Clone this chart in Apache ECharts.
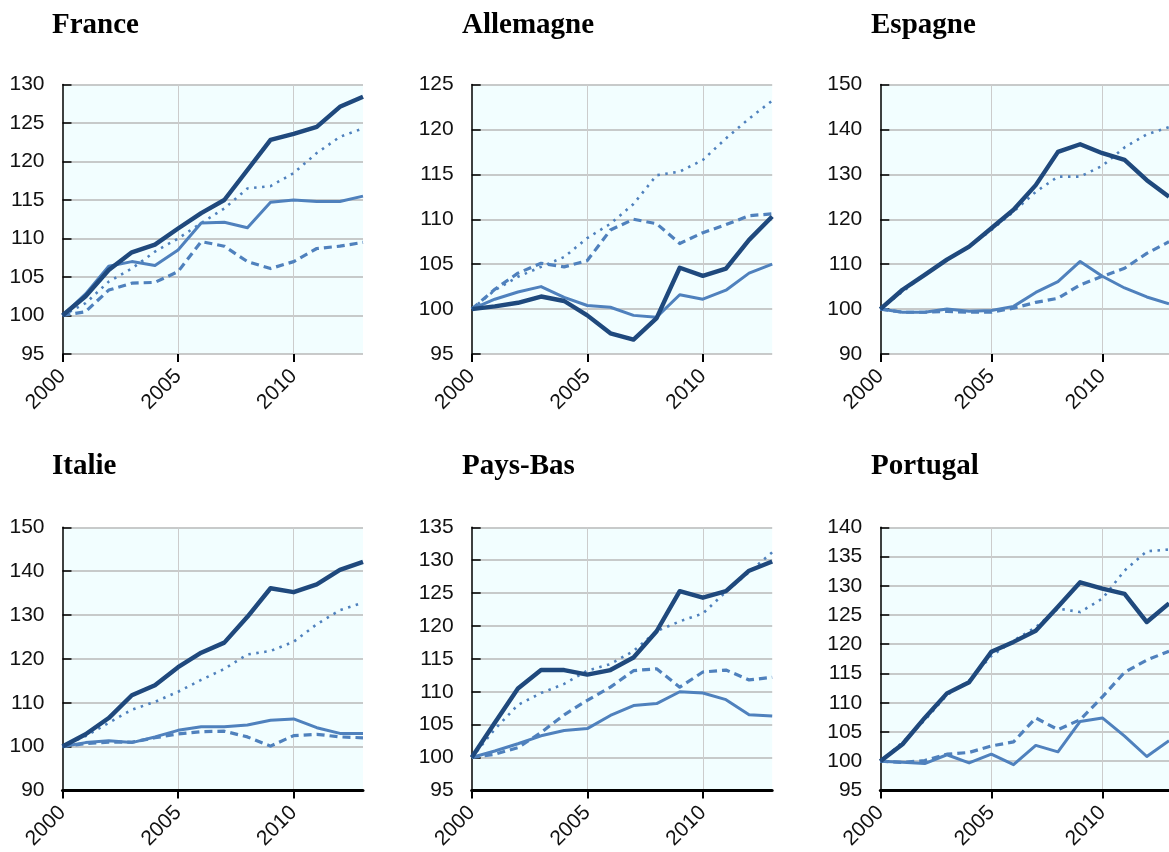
<!DOCTYPE html>
<html>
<head>
<meta charset="utf-8">
<script src="https://cdn.jsdelivr.net/npm/echarts@6/dist/echarts.min.js"></script>
<style>
html,body{margin:0;padding:0;background:#fff;}
#chart{width:1169px;height:852px;}
</style>
</head>
<body>
<div id="chart"></div>
<script>
// Categories (x axis tick labels)
const years = ['2000','2001','2002','2003','2004','2005','2006','2007','2008','2009','2010','2011','2012','2013'];

// France
const franceDark   = [100,102.5,105.9,108.2,109.2,111.3,113.3,115.0,118.9,122.8,123.6,124.5,127.1,128.4];
const franceSolid  = [100,102.8,106.4,107.0,106.5,108.5,112.0,112.1,111.4,114.7,115.0,114.8,114.8,115.5];
const franceDashed = [100,100.5,103.3,104.2,104.3,105.7,109.6,109.0,107.0,106.1,107.0,108.7,109.0,109.5];
const franceDotted = [100,101.6,104.4,106.1,108.3,110.0,112.0,113.9,116.5,116.8,118.5,121.1,123.2,124.3];

// Allemagne
const allemagneDark   = [100,100.3,100.7,101.4,100.9,99.3,97.3,96.6,99.0,104.6,103.7,104.5,107.7,110.3];
const allemagneSolid  = [100,101.1,101.9,102.5,101.3,100.4,100.2,99.3,99.1,101.6,101.1,102.1,104.0,105.0];
const allemagneDashed = [100,102.2,104.0,105.1,104.7,105.4,108.8,110.0,109.5,107.3,108.5,109.4,110.4,110.6];
const allemagneDotted = [100,102.1,103.6,104.7,105.8,107.9,109.5,111.7,114.9,115.3,116.6,119.0,121.2,123.2];

// Espagne
const espagneDark   = [100,104.3,107.6,111.0,113.9,118.0,122.1,127.6,135.0,136.7,134.7,133.2,128.7,125.0];
const espagneSolid  = [100,99.3,99.3,100.0,99.5,99.7,100.6,103.7,106.1,110.6,107.3,104.7,102.7,101.2];
const espagneDashed = [100,99.3,99.3,99.5,99.3,99.3,100.2,101.5,102.4,105.4,107.3,109.1,112.4,115.0];
const espagneDotted = [100,103.9,107.6,111.0,113.9,117.6,121.7,126.1,129.5,129.5,131.9,136.0,138.9,140.5];

// Italie
const italieDark   = [100,102.8,106.5,111.7,114.0,118.1,121.4,123.7,129.6,136.1,135.2,137.0,140.3,142.1];
const italieSolid  = [100,100.9,101.3,100.9,102.2,103.7,104.5,104.5,104.9,106.0,106.3,104.3,103.0,103.0];
const italieDashed = [100,100.7,101.0,101.0,102.0,102.9,103.4,103.5,102.2,100.1,102.5,102.8,102.2,102.0];
const italieDotted = [100,102.4,105.4,108.4,110.2,112.5,115.2,117.7,121.0,121.8,123.9,127.9,131.1,132.8];

// Pays-Bas
const paysBasDark   = [100,105.3,110.5,113.3,113.3,112.6,113.3,115.2,119.2,125.3,124.3,125.3,128.4,129.8];
const paysBasSolid  = [100,101.0,102.1,103.3,104.1,104.4,106.4,107.9,108.2,110.0,109.8,108.8,106.5,106.3];
const paysBasDashed = [100,100.5,101.5,103.8,106.5,108.7,110.7,113.2,113.5,110.7,113.0,113.3,111.8,112.2];
const paysBasDotted = [100,104.3,108.0,109.8,111.2,113.2,114.2,116.2,119.2,120.7,121.9,125.2,128.2,131.2];

// Portugal
const portugalDark   = [100,102.9,107.4,111.6,113.5,118.7,120.4,122.3,126.4,130.6,129.5,128.6,123.8,127.0];
const portugalSolid  = [100,99.8,99.6,101.1,99.7,101.2,99.4,102.7,101.6,106.8,107.4,104.3,100.8,103.5];
const portugalDashed = [100,99.8,100.1,101.2,101.5,102.6,103.3,107.4,105.4,107.1,111.0,115.2,117.3,118.8];
const portugalDotted = [100,103.2,107.0,111.3,113.8,118.0,120.6,122.9,126.1,125.5,127.8,132.6,135.9,136.2];

// Panel titles and y-axis ranges
const titles = ['France','Allemagne','Espagne','Italie','Pays-Bas','Portugal'];
const yMins  = [95, 95, 90, 90, 95, 95];
const yMaxs  = [130,125,150,150,135,140];
const yIntervals = [5, 5, 10, 10, 5, 5];
const panelSeries = [
  [franceDark, franceSolid, franceDashed, franceDotted],
  [allemagneDark, allemagneSolid, allemagneDashed, allemagneDotted],
  [espagneDark, espagneSolid, espagneDashed, espagneDotted],
  [italieDark, italieSolid, italieDashed, italieDotted],
  [paysBasDark, paysBasSolid, paysBasDashed, paysBasDotted],
  [portugalDark, portugalSolid, portugalDashed, portugalDotted]
];
const seriesNames = ['Série 1','Série 2','Série 3','Série 4'];

// Layout / style
const colLefts = [62.5, 471.7, 880.3];
const rowTops = [84.5, 527.3];
const rowHeights = [269.5, 268];
const plotWidth = 300.5;
const titleLefts = [52, 462, 871];
const titleTops = [11, 452];
const styles = [
  {color:'#1F497D', width:4.4, type:'solid'},
  {color:'#4F81BD', width:3, type:'solid'},
  {color:'#4F81BD', width:3.2, type:[8,5]},
  {color:'#4F81BD', width:2.6, type:[2.5,5.5]}
];
const drawOrder = [2,3,1,0];

const grid = [], xAxis = [], yAxis = [], series = [], title = [];
titles.forEach((t, i) => {
  const col = i % 3, row = Math.floor(i / 3);
  grid.push({
    left: colLefts[col], top: rowTops[row], width: plotWidth, height: rowHeights[row],
    show: true, backgroundColor: '#F2FEFF', borderWidth: 0, containLabel: false
  });
  title.push({
    text: t, left: titleLefts[col], top: titleTops[row], padding: 0,
    textStyle: {fontFamily: 'Liberation Serif', fontWeight: 'bold', fontSize: 29, color: '#000'}
  });
  xAxis.push({
    type: 'category', gridIndex: i, data: years, boundaryGap: false,
    axisLine: {show: row === 1, onZero: false, lineStyle: {color: '#000', width: 3}},
    axisTick: {show: true, length: 8, lineStyle: {color: '#000', width: 2}, interval: (idx) => idx % 5 === 0, alignWithLabel: true},
    axisLabel: {
      interval: (idx) => idx % 5 === 0, rotate: 45, margin: 19,
      fontFamily: 'Liberation Sans', fontSize: 21, color: '#111'
    },
    splitLine: {show: true, interval: (idx) => idx % 5 === 0 && idx > 0, lineStyle: {color: '#cccccc', width: 1}}
  });
  yAxis.push({
    type: 'value', gridIndex: i, min: yMins[i], max: yMaxs[i], interval: yIntervals[i],
    axisLine: {show: true, lineStyle: {color: '#000', width: 1.5}},
    axisTick: {show: true, inside: true, length: 9, lineStyle: {color: '#000', width: 1.5}},
    axisLabel: {margin: 18, fontFamily: 'Liberation Sans', fontSize: 21, color: '#111'},
    splitLine: {show: true, lineStyle: {color: '#b8b8b8', width: 1.5}}
  });
  drawOrder.forEach((s) => {
    series.push({
      name: seriesNames[s], type: 'line', xAxisIndex: i, yAxisIndex: i,
      data: panelSeries[i][s], symbol: 'none', smooth: false,
      lineStyle: {color: styles[s].color, width: styles[s].width, type: styles[s].type, cap: 'butt', join: 'round'},
      itemStyle: {color: styles[s].color},
      z: s === 0 ? 10 : 3
    });
  });
});

const chart = echarts.init(document.getElementById('chart'), null, {renderer: 'canvas'});
chart.setOption({animation: false, backgroundColor: '#fff', title, grid, xAxis, yAxis, series});
</script>
</body>
</html>
